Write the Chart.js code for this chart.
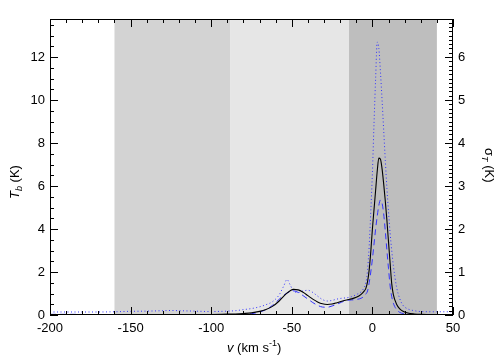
<!DOCTYPE html>
<html>
<head>
<meta charset="utf-8">
<script src="https://cdn.jsdelivr.net/npm/chart.js@4/dist/chart.umd.min.js"></script>
<style>
  html, body { margin: 0; padding: 0; background: #fff; }
  canvas { display: block; }
</style>
</head>
<body>
<canvas id="chart" width="504" height="360"></canvas>
<script>
// velocity grid (km/s)
const velocity = [-200, -185, -170, -160, -150, -140, -130, -125, -120, -110, -100, -90, -85, -80, -75, -70, -66, -62, -58, -55, -53, -51, -49, -46, -43, -40, -37, -34, -31, -28, -25, -22, -19, -16, -13, -10, -7, -5, -4, -3, -2, -1, 0, 1, 2, 3, 4, 5, 6, 7, 8, 9, 10, 11, 12, 13, 15, 17, 19, 22, 26, 30, 40, 50];

// Tb, black solid
const tbSolid = [0, 0, 0, 0, 0, 0.01, 0.01, 0.01, 0.01, 0.01, 0.02, 0.04, 0.05, 0.07, 0.1, 0.17, 0.26, 0.4, 0.64, 0.88, 1.02, 1.13, 1.19, 1.17, 1.06, 0.9, 0.74, 0.61, 0.52, 0.49, 0.51, 0.57, 0.64, 0.7, 0.75, 0.82, 0.96, 1.12, 1.25, 1.55, 2.1, 2.95, 4.0, 4.9, 5.8, 6.7, 7.3, 7.25, 6.8, 6.1, 5.3, 4.4, 3.4, 2.4, 1.45, 0.95, 0.5, 0.28, 0.17, 0.09, 0.05, 0.03, 0.01, 0];

// blue dashed
const tbDashed = [0.03, 0.03, 0.01, 0.01, 0.01, 0.01, 0.01, 0.01, 0.01, 0.01, 0.01, 0.02, 0.02, 0.03, 0.06, 0.14, 0.25, 0.45, 0.72, 0.92, 1.02, 1.09, 1.12, 1.05, 0.9, 0.74, 0.58, 0.45, 0.37, 0.36, 0.42, 0.5, 0.6, 0.68, 0.7, 0.72, 0.78, 0.88, 0.98, 1.12, 1.5, 2.0, 2.6, 3.3, 4.0, 4.6, 5.1, 5.35, 5.2, 4.7, 3.9, 3.0, 2.15, 1.35, 0.85, 0.55, 0.25, 0.12, 0.07, 0.04, 0.02, 0.02, 0.01, 0];

// blue dotted
const tbDotted = [0.14, 0.14, 0.14, 0.15, 0.17, 0.18, 0.2, 0.21, 0.2, 0.18, 0.16, 0.18, 0.2, 0.25, 0.3, 0.38, 0.48, 0.62, 0.92, 1.35, 1.65, 1.4, 1.12, 1.05, 1.12, 1.15, 1.05, 0.88, 0.72, 0.65, 0.68, 0.74, 0.78, 0.8, 0.85, 0.95, 1.08, 1.3, 1.5, 2.1, 3.2, 4.8, 6.6, 8.9, 11.0, 12.7, 12.4, 11.3, 10.0, 8.6, 7.2, 5.9, 4.8, 3.8, 3.0, 2.3, 1.3, 0.75, 0.45, 0.28, 0.2, 0.16, 0.15, 0.15];

// shaded velocity windows
const bandStart = [-160, -88, -14.5];
const bandEnd = [-88, -14.5, 40];
const bandColor = ['#d3d3d3', '#e6e6e6', '#bebebe'];

const xTicks = [-200, -150, -100, -50, 0, 50];
const yTicks = [0, 2, 4, 6, 8, 10, 12];
const y2Ticks = [0, 1, 2, 3, 4, 5, 6];
const yMax = 13.77;

function pts(ys) {
    return velocity.map((v, i) => ({ x: v, y: ys[i] }));
}

const FONT = '"Liberation Sans", Arial, sans-serif';

const framePlugin = {
    id: 'frame',
    beforeDatasetsDraw(chart) {
        const { ctx, chartArea: a, scales } = chart;
        ctx.save();
        for (let i = 0; i < bandStart.length; i++) {
            const x0 = scales.x.getPixelForValue(bandStart[i]);
            const x1 = scales.x.getPixelForValue(bandEnd[i]);
            ctx.fillStyle = bandColor[i];
            ctx.fillRect(x0, a.top, x1 - x0, a.bottom - a.top);
        }
        ctx.restore();
    },
    afterDatasetsDraw(chart) {
        const { ctx, chartArea: a, scales } = chart;
        ctx.save();
        ctx.strokeStyle = '#000';
        ctx.lineWidth = 1;
        ctx.strokeRect(a.left + 0.5, a.top + 0.5, a.right - a.left - 1, a.bottom - a.top - 1);

        ctx.beginPath();
        // x ticks, bottom and top, pointing inward
        for (let v = -200; v <= 50; v += 10) {
            const px = Math.round(scales.x.getPixelForValue(v)) + 0.5;
            const len = v % 50 === 0 ? 8 : 4;
            ctx.moveTo(px, a.bottom); ctx.lineTo(px, a.bottom - len);
            ctx.moveTo(px, a.top); ctx.lineTo(px, a.top + len);
        }
        // left axis
        for (let t = 0; t <= yMax; t += 0.5) {
            const py = Math.round(scales.y.getPixelForValue(t)) + 0.5;
            const len = t % 2 === 0 ? 8 : 4;
            ctx.moveTo(a.left, py); ctx.lineTo(a.left + len, py);
        }
        // right axis (sigma_T)
        for (let k = 0; k <= 68; k++) {
            const py = Math.round(scales.y2.getPixelForValue(k / 10)) + 0.5;
            const len = k % 10 === 0 ? 8 : 4;
            ctx.moveTo(a.right, py); ctx.lineTo(a.right - len, py);
        }
        ctx.stroke();

        // axis titles
        ctx.fillStyle = '#000';
        ctx.textBaseline = 'alphabetic';

        // x title: v (km s^-1)
        let x = 227, y = 352;
        ctx.font = 'italic 13px ' + FONT;
        ctx.fillText('v', x, y); x += ctx.measureText('v').width;
        ctx.font = '13px ' + FONT;
        ctx.fillText(' (km s', x, y); x += ctx.measureText(' (km s').width;
        ctx.font = '9px ' + FONT;
        ctx.fillText('-1', x, y - 6); x += ctx.measureText('-1').width;
        ctx.font = '13px ' + FONT;
        ctx.fillText(')', x, y);

        // left title: T_b (K)
        ctx.save();
        ctx.translate(19, 199);
        ctx.rotate(-Math.PI / 2);
        x = 0;
        ctx.font = 'italic 13px ' + FONT;
        ctx.fillText('T', x, 0); x += ctx.measureText('T').width;
        ctx.font = 'italic 9px ' + FONT;
        ctx.fillText('b', x, 3); x += ctx.measureText('b').width;
        ctx.font = '13px ' + FONT;
        ctx.fillText(' (K)', x, 0);
        ctx.restore();

        // right title: sigma_T (K)
        ctx.save();
        ctx.translate(485, 148);
        ctx.rotate(Math.PI / 2);
        x = 0;
        ctx.font = '13px ' + FONT;
        ctx.fillText('\u03c3', x, 0); x += ctx.measureText('\u03c3').width;
        ctx.font = 'italic 9px ' + FONT;
        ctx.fillText('T', x, 3); x += ctx.measureText('T').width;
        ctx.font = '13px ' + FONT;
        ctx.fillText(' (K)', x, 0);
        ctx.restore();

        ctx.restore();
    }
};

new Chart(document.getElementById('chart'), {
    type: 'line',
    data: {
        datasets: [
            {
                data: pts(tbSolid),
                borderColor: '#000000',
                borderWidth: 1.1,
                pointRadius: 0,
                cubicInterpolationMode: 'monotone',
                yAxisID: 'y'
            },
            {
                data: pts(tbDashed),
                borderColor: '#3333ff',
                borderWidth: 1,
                borderDash: [6, 4],
                pointRadius: 0,
                cubicInterpolationMode: 'monotone',
                yAxisID: 'y'
            },
            {
                data: pts(tbDotted),
                borderColor: '#3333ff',
                borderWidth: 1,
                borderDash: [1, 2.5],
                pointRadius: 0,
                cubicInterpolationMode: 'monotone',
                yAxisID: 'y'
            }
        ]
    },
    options: {
        responsive: false,
        animation: false,
        devicePixelRatio: 1,
        layout: { padding: { top: 19, left: 0, right: 0, bottom: 0 } },
        plugins: { legend: { display: false }, tooltip: { enabled: false } },
        scales: {
            x: {
                type: 'linear',
                min: -200, max: 50,
                afterFit(s) { s.height = 45; },
                afterBuildTicks(s) { s.ticks = xTicks.map(v => ({ value: v })); },
                grid: { display: false, drawTicks: false },
                border: { display: false },
                ticks: { color: '#000', padding: 6, maxRotation: 0, font: { family: FONT, size: 13 } }
            },
            y: {
                position: 'left',
                min: 0, max: yMax,
                afterFit(s) { s.width = 50; },
                afterBuildTicks(s) { s.ticks = yTicks.map(v => ({ value: v })); },
                grid: { display: false, drawTicks: false },
                border: { display: false },
                ticks: { color: '#000', padding: 5, font: { family: FONT, size: 13 } }
            },
            y2: {
                position: 'right',
                min: 0, max: yMax / 2,
                afterFit(s) { s.width = 51; },
                afterBuildTicks(s) { s.ticks = y2Ticks.map(v => ({ value: v })); },
                grid: { display: false, drawTicks: false },
                border: { display: false },
                ticks: { color: '#000', padding: 5, font: { family: FONT, size: 13 } }
            }
        }
    },
    plugins: [framePlugin]
});
</script>
</body>
</html>
